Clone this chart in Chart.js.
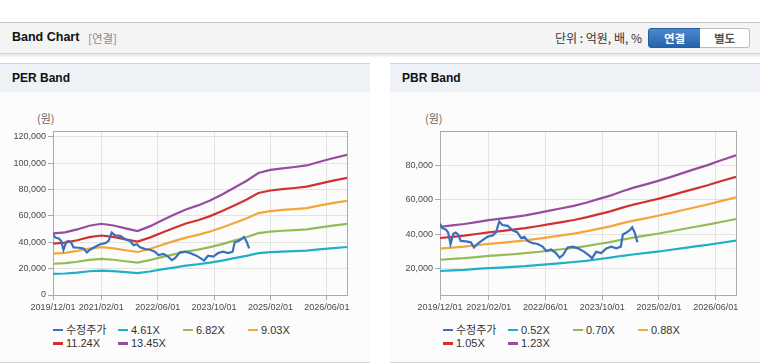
<!DOCTYPE html>
<html>
<head>
<meta charset="utf-8">
<script src="https://cdn.jsdelivr.net/npm/chart.js@4.4.0/dist/chart.umd.min.js"></script>
<style>
  body{margin:0;width:760px;height:364px;background:#fff;overflow:hidden;font-family:"Liberation Sans","Noto Sans CJK KR",sans-serif;position:relative;}
  .hdr{position:absolute;left:0;top:22px;width:760px;height:30px;background:#f4f4f4;border-top:1px solid #c4c4c4;border-bottom:1px solid #cfcfcf;box-shadow:0 2px 2px rgba(0,0,0,.10);}
  .hdr .ttl{position:absolute;left:12px;top:7px;font-weight:bold;font-size:12.5px;color:#111;}
  .hdr .sub{position:absolute;left:88px;top:8px;font-size:11.5px;color:#8a8a8a;font-family:"Noto Sans CJK KR",sans-serif;line-height:15px;}
  .hdr .unit{position:absolute;right:118px;top:7px;font-size:12px;color:#333;font-family:"Noto Sans CJK KR",sans-serif;line-height:16px;}
  .btn{position:absolute;top:5px;height:18px;font-size:11.5px;font-weight:bold;text-align:center;line-height:18px;font-family:"Noto Sans CJK KR",sans-serif;}
  .b1{left:648px;width:51px;background:linear-gradient(#4a88cf,#2563ab);color:#fff;border:1px solid #2a5c99;border-radius:3px 0 0 3px;}
  .b2{left:700px;width:49px;background:#fff;color:#555;border:1px solid #bdbdbd;border-left:none;border-radius:0 3px 3px 0;}
  .panel{position:absolute;top:63px;width:370px;height:298px;background:#fcfcfc;border-top:1px solid #d3d3d3;border-bottom:1px solid #d3d3d3;}
  .panel .bar{height:28px;background:#eef2f7;}
  .panel .bar span{position:absolute;left:12px;top:7px;font-weight:bold;font-size:12px;color:#111;}
  .unitw{position:absolute;top:110px;font-size:11px;color:#666;font-family:"Noto Sans CJK KR",sans-serif;}
  canvas{position:absolute;}
  .legend{position:absolute;top:324px;width:300px;font-size:11px;color:#333;}
  .legend .it{display:inline-block;width:65px;height:13.3px;line-height:13.3px;white-space:nowrap;}
  .legend .mk{display:inline-block;width:10px;height:2.5px;vertical-align:middle;margin-right:3px;position:relative;top:-1px;}
</style>
</head>
<body>
<div class="hdr">
  <div class="ttl">Band Chart</div>
  <div class="sub">[연결]</div>
  <div class="unit">단위 : 억원, 배, %</div>
  <div class="btn b1">연결</div>
  <div class="btn b2">별도</div>
</div>

<div class="panel" style="left:0"><div class="bar"><span>PER Band</span></div></div>
<div class="panel" style="left:390px;width:370px"><div class="bar"><span>PBR Band</span></div></div>
<div class="unitw" style="left:37px">(원)</div>
<div class="unitw" style="left:425px">(원)</div>

<canvas id="per" width="370" height="191" style="left:0;top:124px;width:370px;height:191px"></canvas>
<canvas id="pbr" width="370" height="191" style="left:390px;top:124px;width:370px;height:191px"></canvas>
<div class="legend" id="perLegend" style="left:53px"></div>
<div class="legend" id="pbrLegend" style="left:443px"></div>

<script>
// x axis: months since 2019/12
const tickMonth = [0, 12, 26, 40, 54, 68];
const tickLabel = ['2019/12/01', '2021/02/01', '2022/06/01', '2023/10/01', '2025/02/01', '2026/06/01'];
const lastMonth = 73;

// y axis ticks
const perTicks = [0, 20000, 40000, 60000, 80000, 100000, 120000];
const pbrTicks = [20000, 40000, 60000, 80000];

// 수정주가
const priceMonth = [0, 0.6, 1.4, 2.0, 2.6, 3.3, 3.9, 4.5, 5.1, 6.4, 7.6, 8.4, 9.2, 10.5, 11.7, 13, 13.8, 14.6, 15.4, 16.7,
  17.9, 19.1, 20, 20.8, 21.6, 22.9, 24.1, 25.3, 26.2, 27.4, 28.6, 29.5, 30.3, 31.5, 32.8, 34, 35.6, 36.9, 37.5, 38.5,
  39.8, 41, 42.2, 43.5, 44.6, 45.1, 46, 46.8, 47.4, 48, 48.7];
const priceValue = [46000, 43500, 42800, 41000, 34300, 40300, 41000, 39800, 36100, 35800, 35300, 32300, 34300, 36600, 38500, 39300, 41000, 47300, 45300, 44800,
  42300, 41000, 37800, 38500, 36100, 34800, 34300, 32800, 30300, 31100, 29100, 26400, 27900, 32300, 32800, 31800, 29800, 27400, 26100, 29800,
  29100, 31800, 32800, 31800, 32800, 39800, 41000, 42300, 44000, 41000, 35300];

// band lines
const bandMonth = [0, 3, 6, 9, 12, 15, 18, 21, 24, 27, 30, 33, 36, 39, 42, 45, 48, 51, 54, 57, 60, 63, 66, 69, 73];

const perLabels = ['4.61X', '6.82X', '9.03X', '11.24X', '13.45X'];
const per461 = [16000, 16300, 17000, 18000, 18500, 18100, 17300, 16600, 17800, 19400, 20800, 22200, 23300, 24500, 26100, 27900, 29600, 31700, 32500, 32900, 33300, 33700, 34600, 35400, 36400];
const per682 = [23700, 24100, 25200, 26600, 27400, 26700, 25600, 24600, 26400, 28700, 30800, 32900, 34400, 36300, 38600, 41200, 43800, 46900, 48100, 48700, 49200, 49800, 51100, 52400, 53900];
const per903 = [31400, 31900, 33400, 35200, 36300, 35400, 33900, 32600, 34900, 37900, 40800, 43500, 45600, 48100, 51200, 54600, 58000, 62100, 63600, 64500, 65100, 65900, 67700, 69400, 71400];
const per1124 = [39000, 39700, 41500, 43900, 45100, 44000, 42200, 40500, 43500, 47200, 50800, 54200, 56700, 59800, 63700, 67900, 72200, 77300, 79200, 80200, 81100, 82100, 84200, 86300, 88800];
const per1345 = [46700, 47500, 49700, 52500, 54000, 52700, 50500, 48500, 52000, 56500, 60800, 64800, 67900, 71600, 76200, 81300, 86400, 92500, 94800, 96000, 97000, 98200, 100800, 103300, 106300];

const pbrLabels = ['0.52X', '0.70X', '0.88X', '1.05X', '1.23X'];
const pbr052 = [18700, 19100, 19400, 19900, 20300, 20700, 21100, 21500, 22100, 22700, 23300, 23900, 24600, 25500, 26400, 27500, 28400, 29200, 30000, 31000, 31900, 32900, 33800, 34900, 36300];
const pbr070 = [25200, 25700, 26100, 26700, 27400, 27900, 28400, 29000, 29700, 30500, 31300, 32100, 33100, 34300, 35400, 36900, 38200, 39300, 40400, 41700, 43000, 44300, 45500, 46900, 48800];
const pbr088 = [31700, 32200, 32800, 33600, 34400, 35000, 35700, 36400, 37300, 38300, 39300, 40300, 41600, 43100, 44500, 46400, 48000, 49300, 50800, 52300, 54000, 55600, 57200, 59000, 61300];
const pbr105 = [37800, 38500, 39200, 40100, 41100, 41800, 42600, 43500, 44600, 45800, 47000, 48200, 49700, 51500, 53200, 55400, 57300, 58900, 60600, 62500, 64500, 66400, 68300, 70500, 73200];
const pbr123 = [44300, 45100, 45900, 47000, 48100, 49000, 49900, 50900, 52200, 53600, 55000, 56400, 58200, 60300, 62300, 64900, 67100, 69000, 71000, 73200, 75500, 77800, 80000, 82500, 85700];

const colors = ['#3a6fc0', '#1eb1c6', '#93bb56', '#f5a53a', '#d03232', '#974d9e'];

const frame = {
  id: 'frame',
  beforeDatasetsDraw(c) {
    const a = c.chartArea, ctx = c.ctx;
    ctx.save();
    ctx.strokeStyle = '#aaaaaa';
    ctx.lineWidth = 1;
    ctx.strokeRect(Math.round(a.left) + 0.5, Math.round(a.top) + 0.5, Math.round(a.right - a.left), Math.round(a.bottom - a.top));
    ctx.restore();
  }
};

function pts(xs, ys) { return ys.map((y, i) => ({x: xs[i], y})); }

function makeChart(id, legendId, labels, bands, yTicks, yMin, yMax, yWidth, padRight) {
  const datasets = [{label: '수정주가', data: pts(priceMonth, priceValue)}]
    .concat(bands.map((b, i) => ({label: labels[i], data: pts(bandMonth, b)})))
    .map((d, i) => Object.assign(d, {borderColor: colors[i], backgroundColor: colors[i], borderWidth: 2.2, pointRadius: 0, tension: 0, fill: false}));
  const tickFont = {family: 'Liberation Sans', size: 9};
  const chart = new Chart(document.getElementById(id), {
    type: 'line',
    data: {datasets},
    plugins: [frame],
    options: {
      responsive: false, animation: false,
      layout: {padding: {top: 4, right: padRight, left: 0, bottom: 0}},
      plugins: {legend: {display: false}, tooltip: {enabled: false}},
      scales: {
        x: {
          type: 'linear', min: 0, max: lastMonth,
          afterBuildTicks: s => { s.ticks = tickMonth.map(v => ({value: v})); },
          afterFit: s => { s.height = 20; },
          grid: {color: '#e3e3e3', tickColor: '#aaaaaa', tickLength: 5},
          border: {display: false},
          ticks: {autoSkip: false, maxRotation: 0, padding: 2, color: '#4a4a4a', font: tickFont,
            callback: v => tickLabel[tickMonth.indexOf(v)] || ''}
        },
        y: {
          type: 'linear', min: yMin, max: yMax,
          afterBuildTicks: s => { s.ticks = yTicks.map(v => ({value: v})); },
          afterFit: s => { s.width = yWidth; },
          grid: {color: '#e3e3e3', tickColor: '#aaaaaa', tickLength: 5},
          border: {display: false},
          ticks: {autoSkip: false, padding: 2, color: '#4a4a4a', font: tickFont,
            callback: v => Number(v).toLocaleString('en-US')}
        }
      }
    }
  });
  document.getElementById(legendId).innerHTML = chart.data.datasets.map(d =>
    `<span class="it"><span class="mk" style="background:${d.borderColor}"></span>${d.label}</span>`).join('');
  return chart;
}

makeChart('per', 'perLegend', perLabels, [per461, per682, per903, per1124, per1345], perTicks, 0, 124000, 53, 23);
makeChart('pbr', 'pbrLegend', pbrLabels, [pbr052, pbr070, pbr088, pbr105, pbr123], pbrTicks, 4800, 99500, 50, 24);
</script>
</body>
</html>
